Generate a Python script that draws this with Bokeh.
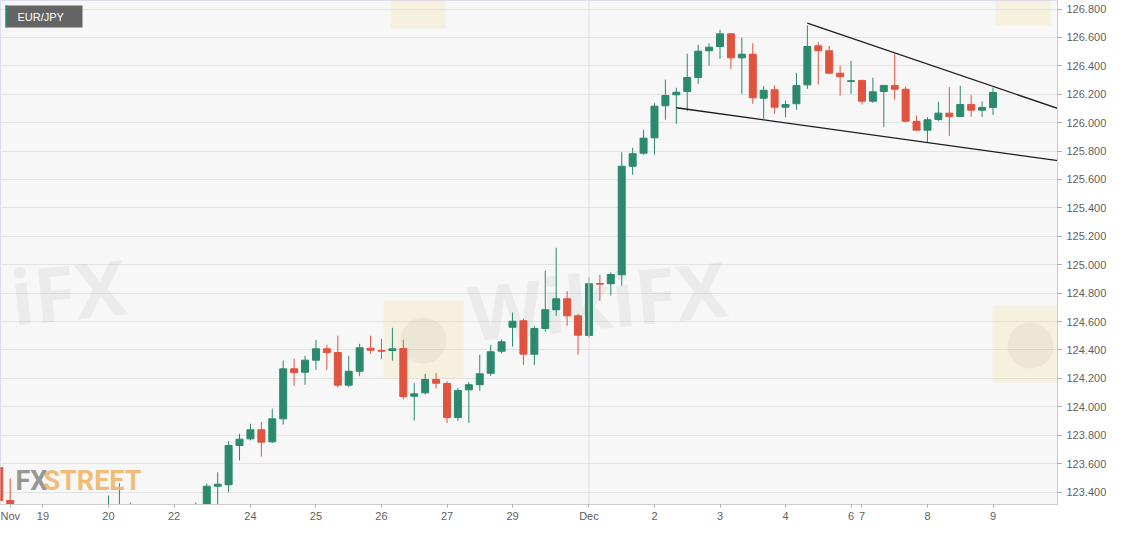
from bokeh.plotting import figure
from bokeh.models import Range1d, FixedTicker, NumeralTickFormatter, Span, ColumnDataSource
from bokeh.core.properties import value
from bokeh.embed import file_html
from bokeh.resources import INLINE

# EUR/JPY 4-hour candles, Nov 18 - Dec 9 (weekends skipped)
opens = [123.572, 123.340, 123.150, 123.120, 123.080, 123.140, 123.100, 123.160,
         123.200, 123.220, 123.120, 123.270, 123.277, 123.180, 123.150, 123.100,
         123.120, 123.150, 123.180, 123.220, 123.441, 123.451, 123.727, 123.774,
         123.838, 123.753, 123.915, 124.267, 124.243, 124.328, 124.408, 124.382,
         124.152, 124.250, 124.412, 124.396, 124.396, 124.410, 124.074, 124.098,
         124.192, 124.164, 123.924, 124.119, 124.155, 124.236, 124.391, 124.560,
         124.605, 124.370, 124.551, 124.683, 124.760, 124.640, 124.502, 124.868,
         124.866, 124.929, 125.693, 125.785, 125.893, 126.119, 126.196, 126.219,
         126.318, 126.506, 126.536, 126.625, 126.456, 126.482, 126.172, 126.231,
         126.109, 126.133, 126.266, 126.541, 126.506, 126.348, 126.290, 126.297,
         126.151, 126.219, 126.262, 126.235, 126.008, 125.947, 126.022, 126.067,
         126.043, 126.128, 126.088, 126.107]
highs = [123.600, 123.495, 123.220, 123.200, 123.180, 123.230, 123.190, 123.240,
         123.240, 123.305, 123.375, 123.462, 123.326, 123.250, 123.220, 123.200,
         123.255, 123.240, 123.326, 123.460, 123.539, 123.758, 123.810, 123.880,
         123.894, 123.986, 124.326, 124.338, 124.359, 124.471, 124.436, 124.500,
         124.359, 124.443, 124.500, 124.478, 124.556, 124.471, 124.167, 124.232,
         124.239, 124.180, 124.134, 124.173, 124.366, 124.436, 124.473, 124.664,
         124.621, 124.570, 124.957, 125.119, 124.814, 124.654, 124.912, 124.928,
         124.947, 125.792, 125.823, 125.950, 126.137, 126.302, 126.245, 126.485,
         126.548, 126.559, 126.654, 126.630, 126.597, 126.559, 126.257, 126.262,
         126.156, 126.351, 126.684, 126.566, 126.541, 126.400, 126.435, 126.302,
         126.316, 126.265, 126.485, 126.254, 126.050, 126.038, 126.147, 126.250,
         126.259, 126.193, 126.149, 126.247]
lows = [123.300, 123.100, 123.060, 123.020, 122.990, 123.050, 123.020, 123.080,
        123.110, 123.080, 123.100, 123.150, 123.120, 123.080, 123.050, 123.020,
        123.080, 123.060, 123.120, 123.180, 123.200, 123.399, 123.622, 123.763,
        123.650, 123.745, 123.875, 124.148, 124.155, 124.260, 124.260, 124.134,
        124.138, 124.215, 124.373, 124.335, 124.324, 124.053, 123.903, 124.086,
        124.129, 123.887, 123.901, 123.887, 124.112, 124.218, 124.375, 124.424,
        124.295, 124.295, 124.528, 124.640, 124.570, 124.366, 124.485, 124.746,
        124.783, 124.854, 125.633, 125.774, 125.774, 126.020, 125.992, 126.081,
        126.273, 126.402, 126.449, 126.379, 126.203, 126.133, 126.027, 126.062,
        126.038, 126.091, 126.238, 126.269, 126.341, 126.189, 126.203, 126.128,
        126.140, 125.968, 126.161, 126.003, 125.943, 125.858, 126.010, 125.907,
        126.040, 126.041, 126.041, 126.055]
closes = [123.340, 123.150, 123.120, 123.080, 123.140, 123.100, 123.160, 123.200,
          123.220, 123.120, 123.277, 123.280, 123.180, 123.150, 123.100, 123.120,
          123.150, 123.180, 123.220, 123.441, 123.455, 123.727, 123.772, 123.838,
          123.751, 123.915, 124.267, 124.241, 124.328, 124.408, 124.382, 124.152,
          124.250, 124.415, 124.398, 124.391, 124.408, 124.072, 124.091, 124.192,
          124.166, 123.924, 124.115, 124.155, 124.232, 124.387, 124.457, 124.602,
          124.370, 124.551, 124.683, 124.760, 124.640, 124.504, 124.866, 124.863,
          124.931, 125.693, 125.781, 125.891, 126.116, 126.191, 126.214, 126.318,
          126.503, 126.531, 126.625, 126.456, 126.482, 126.175, 126.228, 126.109,
          126.128, 126.262, 126.536, 126.506, 126.348, 126.323, 126.295, 126.151,
          126.217, 126.262, 126.235, 126.010, 125.947, 126.020, 126.067, 126.043,
          126.128, 126.088, 126.107, 126.212]

# day labels on the candle index axis
x_tick_pos = [0, 3, 9, 15, 22, 28, 34, 40, 46, 53, 59, 65, 71, 77, 78, 84, 90]
x_tick_labels = ["Nov", "19", "20", "22", "24", "25", "26", "27", "29",
                 "Dec", "2", "3", "4", "6", "7", "8", "9"]
y_ticks = [123.4, 123.6, 123.8, 124.0, 124.2, 124.4, 124.6, 124.8, 125.0,
           125.2, 125.4, 125.6, 125.8, 126.0, 126.2, 126.4, 126.6, 126.8]

# falling wedge lines
upper_x = [73.0, 96.0]
upper_y = [126.700, 126.098]
lower_x = [61.0, 96.0]
lower_y = [126.105, 125.732]

GREEN = "#2b8a6e"
RED = "#e0533f"


# reference pixel geometry -> data coordinates (for decorations only)
def px_x(px):
    return (px - 9.7) / 10.92


def px_y(py):
    return 126.8 - (py - 8.5) / 142.06


idx = list(range(-1, len(opens) - 1))
src = ColumnDataSource(dict(
    x=idx, o=opens, h=highs, l=lows, c=closes,
    top=[max(a, b) for a, b in zip(opens, closes)],
    bottom=[min(a, b) for a, b in zip(opens, closes)],
    color=[GREEN if c >= o else RED for o, c in zip(opens, closes)],
))

p = figure(frame_width=1057, frame_height=504,
           x_range=Range1d(px_x(0), px_x(1057)),
           y_range=Range1d(px_y(504), px_y(0)),
           y_axis_location="right",
           output_backend="svg", toolbar_location=None,
           min_border_left=0, min_border_top=0,
           min_border_right=55, min_border_bottom=18,
           background_fill_color="#f7f7f7", border_fill_color="white",
           outline_line_color="#dcdcee")

# watermarks
wm_yellow = "#f3cc62"
p.quad(left=[px_x(383), px_x(992), px_x(390), px_x(995)],
       right=[px_x(463), px_x(1070), px_x(445), px_x(1050)],
       top=[px_y(300), px_y(305), px_y(-5), px_y(-5)],
       bottom=[px_y(378), px_y(382), px_y(28), px_y(25)],
       fill_color=wm_yellow, fill_alpha=0.16, line_color=None)
p.scatter(x=[px_x(423), px_x(1030)], y=[px_y(340), px_y(345)], size=46,
          fill_color="#8a8a8a", fill_alpha=0.09, line_color=None)
p.text(x=[px_x(468), px_x(10)], y=[px_y(312), px_y(296)], text=["WikiFX", "iFX"],
       text_align="left", text_baseline="middle", angle=0.1,
       text_font=value("Open Sans"), text_font_style="bold",
       text_font_size="76px", text_color="#8a8a8a", text_alpha=0.10)

p.ygrid.ticker = FixedTicker(ticks=y_ticks)
p.ygrid.grid_line_color = "#e3e3e3"
p.xgrid.visible = False
p.add_layout(Span(location=53, dimension="height", line_color="#dedede", line_width=1))

p.segment(x0="x", y0="h", x1="x", y1="l", color="color", line_width=1, source=src)
p.vbar(x="x", width=0.64, top="top", bottom="bottom", fill_color="color",
       line_color="color", line_width=1, source=src)

p.line(upper_x, upper_y, line_color="#1c1c1c", line_width=1.3)
p.line(lower_x, lower_y, line_color="#1c1c1c", line_width=1.3)

# FXSTREET logo
p.text(x=[px_x(15), px_x(43)], y=[px_y(480), px_y(480)], text=["FX", "STREET"],
       text_baseline="middle", text_align="left",
       text_font=value("Roboto"), text_font_style="bold",
       text_font_size="27px", text_color=["#8a8a8a", "#f0b566"], text_alpha=0.9)

# instrument badge
p.quad(left=[px_x(5)], right=[px_x(82)], top=[px_y(5)], bottom=[px_y(27)],
       fill_color="#646464", line_color=None)
p.quad(left=[px_x(5)], right=[px_x(7)], top=[px_y(5)], bottom=[px_y(27)],
       fill_color=GREEN, line_color=None)
p.text(x=[px_x(17)], y=[px_y(16.5)], text=["EUR/JPY"], text_baseline="middle",
       text_font=value("Liberation Sans"), text_font_size="11px", text_color="white")

xa = p.xaxis[0]
xa.ticker = FixedTicker(ticks=x_tick_pos)
xa.major_label_overrides = dict(zip(x_tick_pos, x_tick_labels))
xa.minor_tick_line_color = None
xa.major_tick_in = 0
xa.major_tick_out = 3
xa.major_tick_line_color = "#aaaaaa"
xa.axis_line_color = "#cccccc"
xa.major_label_standoff = 2
xa.major_label_text_font = "Liberation Sans"
xa.major_label_text_font_size = "11px"
xa.major_label_text_color = "#5f5f5f"

ya = p.yaxis[0]
ya.ticker = FixedTicker(ticks=y_ticks)
ya.formatter = NumeralTickFormatter(format="0.000")
ya.minor_tick_line_color = None
ya.major_tick_in = 0
ya.major_tick_out = 4
ya.major_tick_line_color = "#aaaaaa"
ya.axis_line_color = "#cccccc"
ya.major_label_standoff = 5
ya.major_label_text_font = "Liberation Sans"
ya.major_label_text_font_size = "11px"
ya.major_label_text_color = "#5f5f5f"

open("out.html", "w").write(file_html(p, INLINE))
